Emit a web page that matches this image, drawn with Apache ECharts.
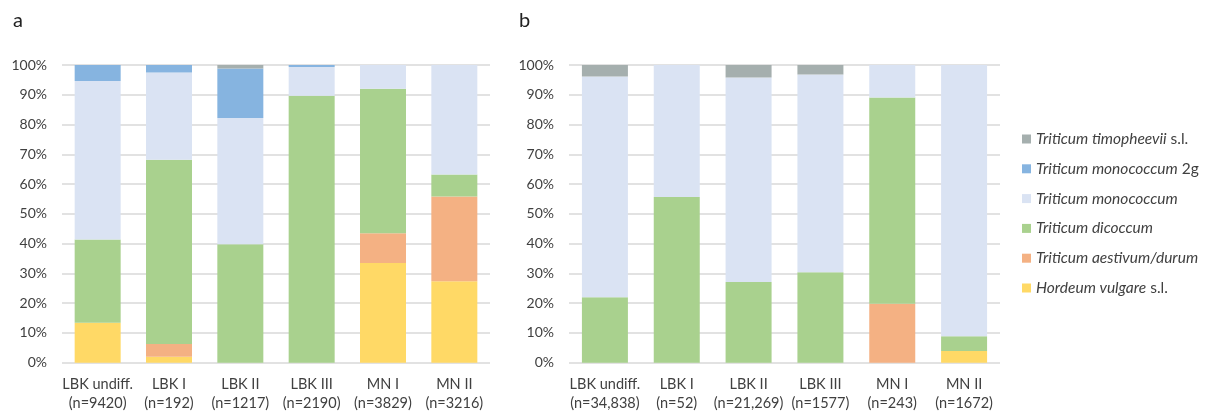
<!DOCTYPE html>
<html>
<head>
<meta charset="utf-8">
<script src="https://cdn.jsdelivr.net/npm/echarts@6/dist/echarts.min.js"></script>
<style>html,body{margin:0;padding:0;background:#fff}#c{width:1208px;height:417px}</style>
</head>
<body>
<div id="c"></div>
<script>
// ---- data ----
const categoriesA = ['LBK undiff.\n(n=9420)', 'LBK I\n(n=192)', 'LBK II\n(n=1217)', 'LBK III\n(n=2190)', 'MN I\n(n=3829)', 'MN II\n(n=3216)'];
const categoriesB = ['LBK undiff.\n(n=34,838)', 'LBK I\n(n=52)', 'LBK II\n(n=21,269)', 'LBK III\n(n=1577)', 'MN I\n(n=243)', 'MN II\n(n=1672)'];
const seriesNames = ['Hordeum vulgare s.l.', 'Triticum aestivum/durum', 'Triticum dicoccum', 'Triticum monococcum', 'Triticum monococcum 2g', 'Triticum timopheevii s.l.'];
// panel a (percent per segment)
const hordeumA     = [13.4, 2.0, 0, 0, 33.5, 27.4];
const aestivumA    = [0, 4.3, 0, 0, 10.0, 28.4];
const dicoccumA    = [28.0, 61.9, 39.8, 89.7, 48.5, 7.4];
const monococcumA  = [53.2, 29.3, 42.4, 9.6, 8.0, 36.8];
const mono2gA      = [5.4, 2.5, 16.6, 0.7, 0, 0];
const timopheeviiA = [0, 0, 1.2, 0, 0, 0];
// panel b
const hordeumB     = [0, 0, 0, 0, 0, 3.9];
const aestivumB    = [0, 0, 0, 0, 19.8, 0];
const dicoccumB    = [22.0, 55.7, 27.1, 30.4, 69.3, 5.0];
const monococcumB  = [74.1, 44.3, 68.7, 66.4, 10.9, 91.1];
const mono2gB      = [0, 0, 0, 0, 0, 0];
const timopheeviiB = [3.9, 0, 4.2, 3.2, 0, 0];

// ---- styles ----
const colors = ['#FFD966', '#F4B183', '#A9D18E', '#DAE3F3', '#86B4E0', '#A5AFAE'];
const textColor = '#404040';
const font = 'Lato, "Open Sans", sans-serif';

const dataA = [hordeumA, aestivumA, dicoccumA, monococcumA, mono2gA, timopheeviiA];
const dataB = [hordeumB, aestivumB, dicoccumB, monococcumB, mono2gB, timopheeviiB];

function xAxis(cats, idx) {
  return {
    type: 'category', gridIndex: idx, data: cats,
    axisLine: {show: false}, axisTick: {show: false},
    axisLabel: {color: textColor, fontFamily: font, fontSize: 14.5, lineHeight: 19, margin: 12, interval: 0}
  };
}
function yAxis(idx) {
  return {
    type: 'value', gridIndex: idx, min: 0, max: 100, interval: 10,
    axisLine: {show: false}, axisTick: {show: false},
    axisLabel: {color: textColor, fontFamily: font, fontSize: 14, margin: 15, formatter: '{value}%'},
    splitLine: {lineStyle: {color: '#D9D9D9', width: 1.5}}
  };
}
const series = [];
[dataA, dataB].forEach((d, gi) => {
  d.forEach((vals, si) => {
    series.push({
      name: seriesNames[si], type: 'bar', stack: 'p' + gi,
      xAxisIndex: gi, yAxisIndex: gi, barWidth: 46,
      itemStyle: {color: colors[si]},
      data: vals
    });
  });
});

function legendFmt(name) {
  if (name === 'Triticum timopheevii s.l.') return '{i|Triticum timopheevii} {n|s.l.}';
  if (name === 'Triticum monococcum 2g') return '{i|Triticum monococcum} {n|2g}';
  if (name === 'Hordeum vulgare s.l.') return '{i|Hordeum vulgare} {n|s.l.}';
  return '{i|' + name + '}';
}

const chart = echarts.init(document.getElementById('c'), null, {renderer: 'canvas'});
chart.setOption({
  animation: false,
  backgroundColor: '#fff',
  title: [
    {text: 'a', left: 8, top: 6, textStyle: {fontFamily: font, fontSize: 20, fontWeight: 'normal', color: '#222'}},
    {text: 'b', left: 514, top: 6, textStyle: {fontFamily: font, fontSize: 20, fontWeight: 'normal', color: '#222'}}
  ],
  grid: [
    {left: 62, top: 65, width: 428, height: 297.7},
    {left: 569, top: 65, width: 431, height: 297.7}
  ],
  xAxis: [xAxis(categoriesA, 0), xAxis(categoriesB, 1)],
  yAxis: [yAxis(0), yAxis(1)],
  legend: {
    orient: 'vertical', left: 1017, top: 125.5,
    itemWidth: 9, itemHeight: 9, itemGap: 12.8,
    icon: 'rect',
    data: seriesNames.slice().reverse(),
    formatter: legendFmt,
    textStyle: {
      color: textColor, fontFamily: font, fontSize: 15.5, lineHeight: 17,
      rich: {
        i: {fontStyle: 'italic', fontFamily: font, fontSize: 15.5, color: textColor, lineHeight: 17},
        n: {fontFamily: font, fontSize: 15.5, color: textColor, lineHeight: 17}
      }
    }
  },
  series: series
});
</script>
</body>
</html>
